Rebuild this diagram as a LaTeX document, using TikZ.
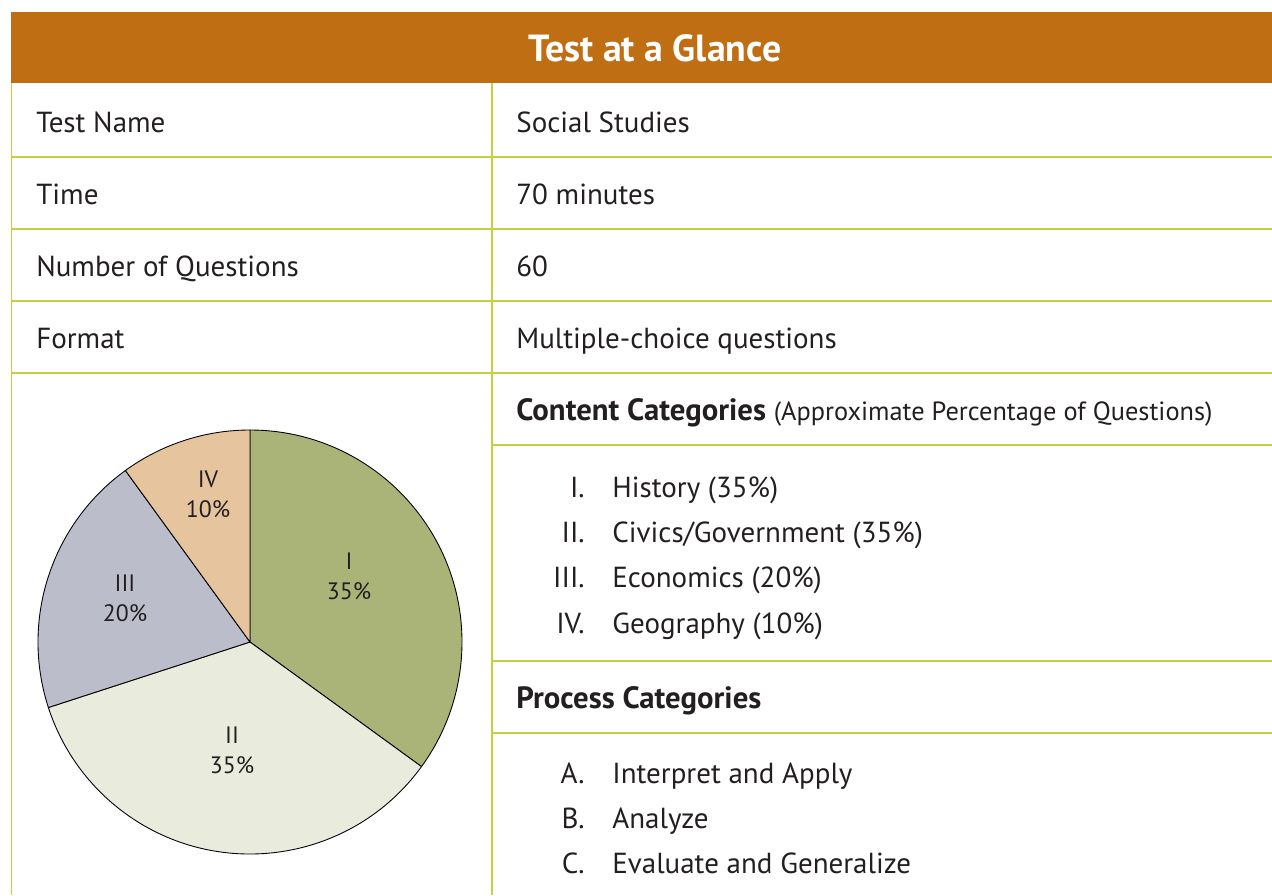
\documentclass[tikz,border=0pt]{standalone}
\usepackage{fontspec}
\setmainfont{PT Sans}
\definecolor{bannerbrown}{HTML}{BF6E13}
\definecolor{gridgreen}{HTML}{C3D142}
\definecolor{sliceone}{HTML}{ABB478}
\definecolor{slicetwo}{HTML}{E9EBDD}
\definecolor{slicethree}{HTML}{BBBDCB}
\definecolor{slicefour}{HTML}{E6C49E}
\definecolor{inkgrey}{HTML}{231F20}
\newcommand{\headbold}[1]{{\bfseries\fontsize{17.5}{20}\selectfont #1}}
\tikzset{
  cell/.style={anchor=base west, inner sep=0pt, text=inkgrey, font=\fontsize{16.5}{20}\selectfont},
  numeral/.style={anchor=base east, inner sep=0pt, text=inkgrey, font=\fontsize{16.5}{20}\selectfont},
  slicelabel/.style={align=center, inner sep=0pt, text=inkgrey, font=\fontsize{13.5}{17}\selectfont},
  gridline/.style={gridgreen, line width=0.9pt}
}
\begin{document}
\begin{tikzpicture}
    \useasboundingbox (0,0) rectangle (25.44,-17.9);

    % the banner on top
    \fill[bannerbrown] (0.22,-0.24) rectangle (25.44,-1.66);
    \node[text=white, font=\bfseries\fontsize{21.5}{24}\selectfont] (title) at (13.1,-0.96) {Test at a Glance};

    % the outer line on the left and the line between the columns
    \draw[gridline] (0.23,-1.66) -- (0.23,-17.9);
    \draw[gridline] (9.84,-1.66) -- (9.84,-17.9);

    % the lines across the whole table
    \foreach \y in {3.14, 4.58, 6.02, 7.46}
    \draw[gridline] (0.23,-\y) -- (25.44,-\y);
    % the lines in the right column only
    \foreach \y in {8.9, 13.22, 14.66}
    \draw[gridline] (9.84,-\y) -- (25.44,-\y);

    % The first four rows
    \node[cell] (namekey) at (0.72,-2.64) {Test Name};
    \node[cell] (nameval) at (10.32,-2.64) {Social Studies};
    \node[cell] (timekey) at (0.72,-4.08) {Time};
    \node[cell] (timeval) at (10.32,-4.08) {70 minutes};
    \node[cell] (numkey) at (0.72,-5.52) {Number of Questions};
    \node[cell] (numval) at (10.32,-5.52) {60};
    \node[cell] (formkey) at (0.72,-6.96) {Format};
    \node[cell] (formval) at (10.32,-6.96) {Multiple-choice questions};

    % The content categories
    \node[cell] (conthead) at (10.32,-8.4) {\headbold{Content Categories} {\fontsize{15}{20}\selectfont(Approximate Percentage of Questions)}};
    \node[numeral] (numi) at (11.7,-9.94) {I.};
    \node[cell] (conti) at (12.24,-9.94) {History (35\%)};
    \node[numeral] (numii) at (11.7,-10.84) {II.};
    \node[cell] (contii) at (12.24,-10.84) {Civics/Government (35\%)};
    \node[numeral] (numiii) at (11.7,-11.74) {III.};
    \node[cell] (contiii) at (12.24,-11.74) {Economics (20\%)};
    \node[numeral] (numiv) at (11.7,-12.66) {IV.};
    \node[cell] (contiv) at (12.24,-12.66) {Geography (10\%)};

    % The process categories
    \node[cell] (prochead) at (10.32,-14.16) {\headbold{Process Categories}};
    \node[numeral] (numa) at (11.7,-15.66) {A.};
    \node[cell] (proca) at (12.24,-15.66) {Interpret and Apply};
    \node[numeral] (numb) at (11.7,-16.56) {B.};
    \node[cell] (procb) at (12.24,-16.56) {Analyze};
    \node[numeral] (numc) at (11.7,-17.46) {C.};
    \node[cell] (procc) at (12.24,-17.46) {Evaluate and Generalize};

    % the pie, clockwise from the top
    \coordinate (piecentre) at (5,-12.84);
    \filldraw[fill=sliceone, line width=0.5pt] (piecentre) -- ++(90:4.24) arc[start angle=90, end angle=-36, radius=4.24] -- cycle;
    \filldraw[fill=slicetwo, line width=0.5pt] (piecentre) -- ++(-36:4.24) arc[start angle=-36, end angle=-162, radius=4.24] -- cycle;
    \filldraw[fill=slicethree, line width=0.5pt] (piecentre) -- ++(-162:4.24) arc[start angle=198, end angle=126, radius=4.24] -- cycle;
    \filldraw[fill=slicefour, line width=0.5pt] (piecentre) -- ++(126:4.24) arc[start angle=126, end angle=90, radius=4.24] -- cycle;

    % The labels in the slices
    \node[slicelabel] (labi) at (6.98,-11.52) {I\\35\%};
    \node[slicelabel] (labii) at (4.64,-15.0) {II\\35\%};
    \node[slicelabel] (labiii) at (2.5,-11.96) {III\\20\%};
    \node[slicelabel] (labiv) at (4.16,-9.88) {IV\\10\%};
\end{tikzpicture}
\end{document}
